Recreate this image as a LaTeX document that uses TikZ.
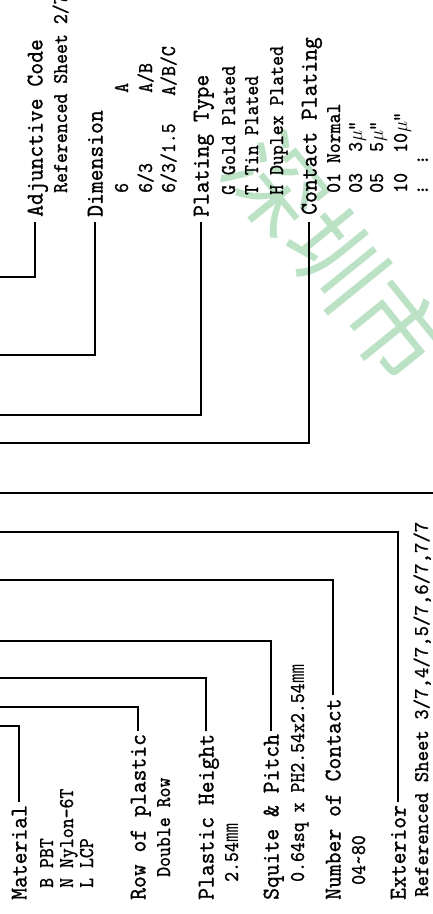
\documentclass[tikz,border=0pt]{standalone}
\usepackage{fontspec}
\newfontfamily\cjk{Noto Sans CJK SC}
\newfontfamily\fieldfont{lmmono10-regular.otf}[FakeBold=1]
\definecolor{wmgreen}{RGB}{188,226,198}

\begin{document}
\begin{tikzpicture}[x=1pt, y=-1pt,
				fieldname/.style={rotate=90, xscale=0.94, anchor=base west, inner sep=0pt, font=\fontsize{24}{28}\selectfont\fieldfont},
				fieldval/.style={rotate=90, xscale=0.9, anchor=base west, inner sep=0pt, font=\fontsize{21}{24}\selectfont\fieldfont},
				lead/.style={line width=1.1pt}
				]
				
				\useasboundingbox (0,0) rectangle (433,914);
				
				% watermark
				\node[rotate=-51, text=wmgreen, font=\fontsize{95}{95}\selectfont\cjk] (wm) at (337,258) {深圳市};
				
				% upper fields
				\node[fieldname] (adj) at (42.5,217) {Adjunctive Code};
				\node[fieldval] (adj1) at (67,193) {Referenced Sheet 2/7};
				
				\node[fieldname] (dim) at (102.5,217) {Dimension};
				\node[fieldval] (dim1) at (128,193) {6};
				\node[fieldval] (dim1v) at (128,93) {A};
				\node[fieldval] (dim2) at (152,193) {6/3};
				\node[fieldval] (dim2v) at (152,93) {A/B};
				\node[fieldval] (dim3) at (175,193) {6/3/1.5};
				\node[fieldval] (dim3v) at (175,96) {A/B/C};
				
				\node[fieldname] (plt) at (208.5,217) {Plating Type};
				\node[fieldval] (plt1) at (235,195) {G Gold Plated};
				\node[fieldval] (plt2) at (258,195) {T Tin Plated};
				\node[fieldval] (plt3) at (283,195) {H Duplex Plated};
				
				\node[fieldname] (cp) at (316.5,215) {Contact Plating};
				\node[fieldval] (cp1) at (340,193) {01 Normal};
				\node[fieldval] (cp2) at (362,193) {03};
				\node[fieldval] (cp2v) at (362,152) {3$\mu$"};
				\node[fieldval] (cp3) at (383,193) {05};
				\node[fieldval] (cp3v) at (383,152) {5$\mu$"};
				\node[fieldval] (cp4) at (407,193) {10};
				\node[fieldval] (cp4v) at (407,153) {10$\mu$"};
				\node[fieldval] (cp5) at (428,195) {$\vdots$};
				\node[fieldval] (cp5v) at (428,165) {$\vdots$};
				
				% lower fields
				\node[fieldname] (mat) at (26.5,900) {Material};
				\node[fieldval] (mat1) at (53,888) {B PBT};
				\node[fieldval] (mat2) at (73,888) {N Nylon-6T};
				\node[fieldval] (mat3) at (93,888) {L LCP};
				
				\node[fieldname] (row) at (145.5,900) {Row of plastic};
				\node[fieldval] (row1) at (170,877) {Double Row};
				
				\node[fieldname] (ht) at (213.5,900) {Plastic Height};
				\node[fieldval] (ht1) at (238,882) {2.54{\cjk ㎜}};
				
				\node[fieldname] (pitch) at (278.5,900) {Squite \& Pitch};
				\node[fieldval] (pitch1) at (304,882) {0.64sq x PH2.54x2.54{\cjk ㎜}};
				
				\node[fieldname] (num) at (340.5,900) {Number of Contact};
				\node[fieldval] (num1) at (365,885) {04\textasciitilde80};
				
				\node[fieldname] (ext) at (405.5,900) {Exterior};
				\node[fieldval, xscale=1.05] (ext1) at (428,897) {Referenced Sheet 3/7,4/7,5/7,6/7,7/7};
				
				% free ends at the left edge
				\coordinate (adjL) at (0,277);
				\coordinate (dimL) at (0,355);
				\coordinate (pltL) at (0,415);
				\coordinate (cpL) at (0,443);
				\coordinate (sepL) at (0,493);
				\coordinate (sepR) at (433,493);
				\coordinate (extL) at (0,532);
				\coordinate (numL) at (0,580);
				\coordinate (pitchL) at (0,641);
				\coordinate (htL) at (0,678);
				\coordinate (rowL) at (0,707);
				\coordinate (matL) at (0,726);
				
				\draw[lead] ([xshift=-7.5pt,yshift=-5pt]adj.base west) |- (adjL);
				\draw[lead] ([xshift=-7.5pt,yshift=-5pt]dim.base west) |- (dimL);
				\draw[lead] ([xshift=-7.5pt,yshift=-5pt]plt.base west) |- (pltL);
				\draw[lead] ([xshift=-7.5pt,yshift=-7pt]cp.base west) |- (cpL);
				\draw[lead] (sepL) -- (sepR);
				\draw[lead] ([xshift=-7.5pt,yshift=3pt]ext.base east) |- (extL);
				\draw[lead] ([xshift=-7.5pt,yshift=3pt]num.base east) |- (numL);
				\draw[lead] ([xshift=-7.5pt,yshift=3pt]pitch.base east) |- (pitchL);
				\draw[lead] ([xshift=-7.5pt,yshift=3pt]ht.base east) |- (htL);
				\draw[lead] ([xshift=-7.5pt,yshift=3pt]row.base east) |- (rowL);
				\draw[lead] ([xshift=-7.5pt,yshift=3pt]mat.base east) |- (matL);
				
			\end{tikzpicture}
\end{document}
